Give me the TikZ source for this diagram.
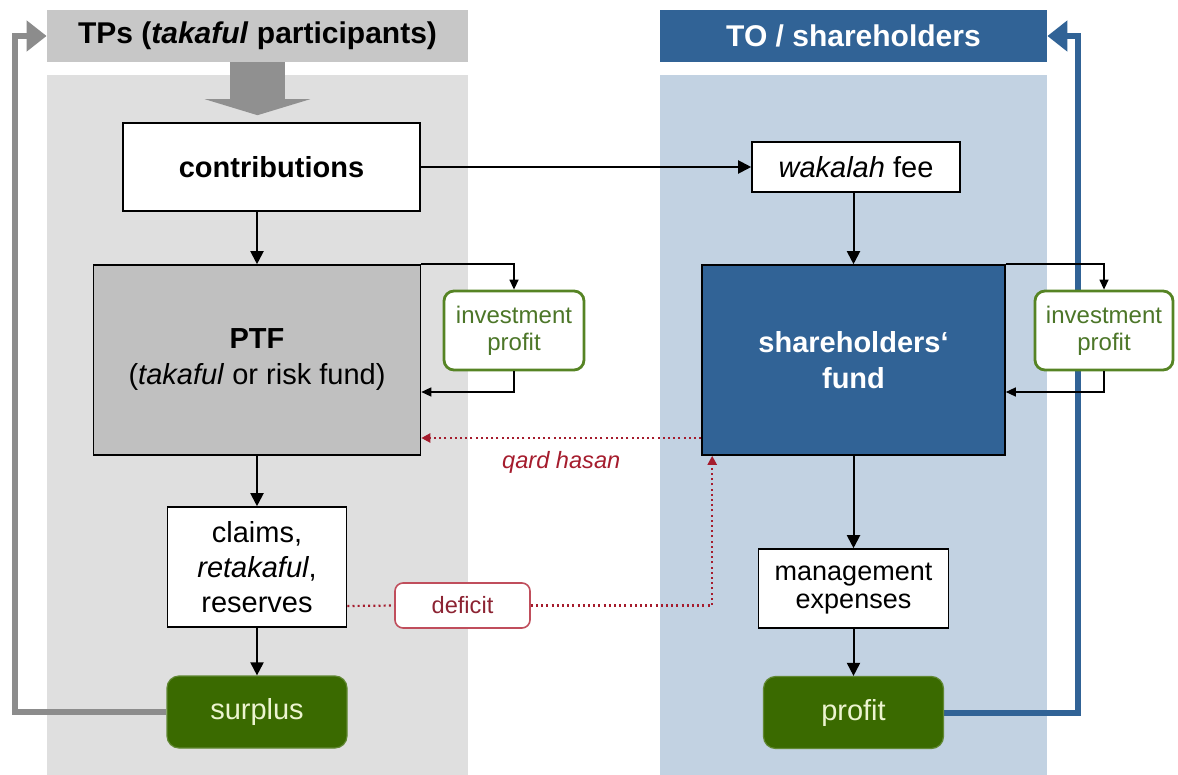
\documentclass[tikz,border=0pt]{standalone}
\usepackage{fontspec}
\setmainfont{Liberation Sans}
\usetikzlibrary{arrows.meta}

\definecolor{panelgray}{RGB}{223,223,223}
\definecolor{headgray}{RGB}{199,199,199}
\definecolor{fundgray}{RGB}{192,192,192}
\definecolor{loopgray}{RGB}{140,140,140}
\definecolor{toblue}{RGB}{49,99,150}
\definecolor{panelblue}{RGB}{194,210,226}
\definecolor{boxgreen}{RGB}{58,106,0}
\definecolor{palegreen}{RGB}{236,244,208}
\definecolor{invgreen}{RGB}{86,132,36}
\definecolor{invtext}{RGB}{76,118,40}
\definecolor{dotred}{RGB}{165,28,45}
\definecolor{defred}{RGB}{140,35,50}
\definecolor{defborder}{RGB}{192,78,92}

\pgfdeclarelayer{panels}
\pgfdeclarelayer{returns}
\pgfsetlayers{panels,returns,main}

\tikzset{
  box/.style={draw=black, line width=0.8pt, fill=white, inner sep=0pt, align=center,
              font=\fontsize{14.5}{18}\selectfont},
  headbox/.style={inner sep=0pt, align=center, font=\fontsize{15}{18}\selectfont\bfseries},
  invbox/.style={draw=invgreen, line width=1.4pt, fill=white, rounded corners=5pt,
                 inner sep=0pt, align=center, text=invtext,
                 font=\fontsize{12}{13.5}\selectfont,
                 minimum width=70pt, minimum height=39.5pt},
  resultbox/.style={fill=boxgreen, draw=boxgreen!80!white, line width=0.6pt,
                    rounded corners=6pt, inner sep=0pt, text=palegreen,
                    font=\fontsize{14.5}{18}\selectfont,
                    minimum width=90pt, minimum height=36pt},
  arr/.style={line width=1pt, -{Triangle[length=6.5pt,width=6.5pt]}},
  thinarr/.style={line width=0.7pt, -{Triangle[length=5pt,width=4.5pt]}},
  dotline/.style={dotred, line width=1.1pt, dash pattern=on 1pt off 1.6pt},
  dotarr/.style={dotline, -{Triangle[length=4.5pt,width=4.5pt]}},
  looparr/.style={line width=3pt, -{Triangle[length=10pt,width=15pt]}},
}

\begin{document}
\begin{tikzpicture}[x=0.5pt,y=-0.5pt]
  \useasboundingbox (0,0) rectangle (1178,775);

  % column backgrounds
  \begin{pgfonlayer}{panels}
    \fill[panelgray] (47,75) rectangle (468,775);
    \fill[panelblue] (660,75) rectangle (1047,775);
  \end{pgfonlayer}

  % column headers
  \node[headbox, fill=headgray, minimum width=210.5pt, minimum height=26pt]
    (tps) at (257.5,36) {TPs (\textit{takaful} participants)};
  \node[headbox, fill=toblue, text=white, minimum width=193.5pt, minimum height=26pt]
    (to) at (853.5,36) {TO / shareholders};

  % participants' side
  \node[box, font=\fontsize{14.5}{18}\selectfont\bfseries,
        minimum width=148.5pt, minimum height=44pt] (contrib) at (271.5,167) {contributions};
  \node[box, fill=fundgray, minimum width=163.5pt, minimum height=95pt]
    (ptf) at (257,360) {\textbf{PTF}\\(\textit{takaful} or risk fund)};
  \node[invbox] (invL) at (514,330.5) {investment\\profit};
  \node[box, font=\fontsize{14.5}{17.5}\selectfont,
        minimum width=89.5pt, minimum height=60pt]
    (claims) at (257,567) {claims,\\\textit{retakaful},\\reserves};
  \node[resultbox] (surplus) at (257,712) {surplus};

  % operator's side
  \node[box, minimum width=104pt, minimum height=25pt]
    (wakalah) at (856,167) {\textit{wakalah} fee};
  \node[box, fill=toblue, text=white, font=\fontsize{14.5}{18}\selectfont\bfseries,
        minimum width=151.5pt, minimum height=95pt]
    (sfund) at (853.5,360) {shareholders‘\\fund};
  \node[invbox, minimum width=69pt] (invR) at (1104,330.5) {investment\\profit};
  \node[box, font=\fontsize{13.5}{14}\selectfont, minimum width=95pt, minimum height=39.5pt]
    (mgmt) at (853.5,588.5) {management\\expenses};
  \node[resultbox] (profit) at (853.5,712.5) {profit};

  % deficit marker
  \node[draw=defborder, line width=0.8pt, fill=white, rounded corners=4pt, inner sep=0pt,
        text=defred, font=\fontsize{11.8}{14}\selectfont,
        minimum width=67.5pt, minimum height=22.5pt] (deficit) at (462.5,605.5) {deficit};

  % contributions entering from the participants
  \draw[fundgray!75!black, line width=27.5pt, shorten >=3.5pt,
        -{Triangle[length=8pt,width=52.5pt]}]
    (tps.south) -- (tps.south |- contrib.north);

  % main flows
  \draw[arr] (ptf.north |- contrib.south) -- (ptf.north);
  \draw[arr] (ptf.south) -- (claims.north);
  \draw[arr] (claims.south) -- (surplus.north);
  \draw[arr] (contrib.east) -- (wakalah.west);
  \draw[arr] (sfund.north |- wakalah.south) -- (sfund.north);
  \draw[arr] (sfund.south) -- (mgmt.north);
  \draw[arr] (mgmt.south) -- (profit.north);

  % investment loops
  \draw[thinarr] (ptf.north east) -| (invL.north);
  \draw[thinarr] (invL.south) |- ([yshift=-16pt]ptf.east);
  \draw[thinarr] (sfund.north east) -| (invR.north);
  \draw[thinarr] (invR.south) |- ([yshift=-16pt]sfund.east);

  % qard hasan and deficit
  \draw[dotarr] ([yshift=-39pt]sfund.west) -- ([yshift=-39pt]ptf.east)
    node[midway, below=3pt, text=dotred, font=\fontsize{11.8}{14}\selectfont\itshape] {qard hasan};
  \draw[dotline] ([yshift=-19.5pt]claims.east) -- (deficit.west);
  \draw[dotarr] (deficit.east) -| ([xshift=5.5pt]sfund.south west);

  % returns to participants and shareholders, passing behind the boxes
  \coordinate (gturn) at (15,36);
  \coordinate (bturn) at (1078,36);
  \begin{pgfonlayer}{returns}
    \draw[looparr, loopgray] (surplus.west) -| (gturn) -- (tps.west);
    \draw[looparr, toblue] (profit.east) -| (bturn) -- (to.east);
  \end{pgfonlayer}
\end{tikzpicture}
\end{document}
